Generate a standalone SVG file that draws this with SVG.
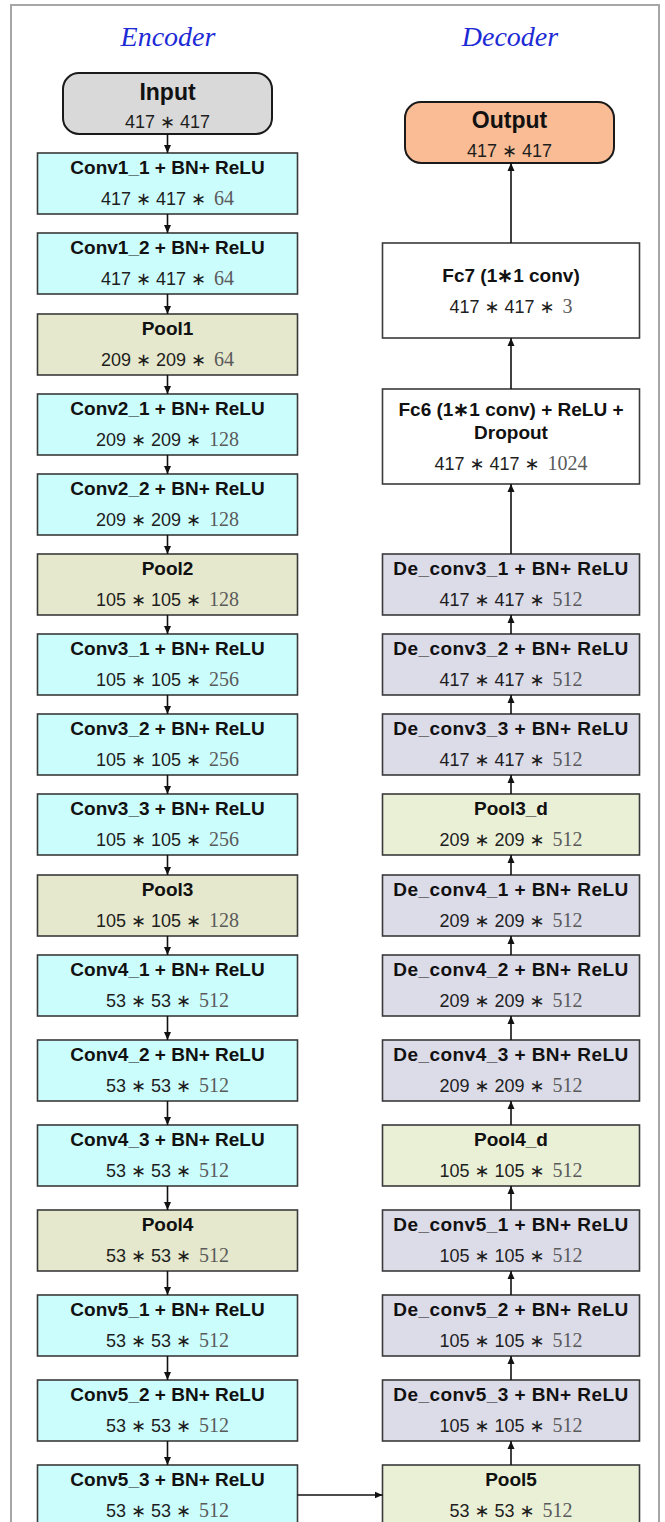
<svg xmlns="http://www.w3.org/2000/svg" width="665" height="1522" viewBox="0 0 665 1522">
  <style>
    .frame { fill: #ffffff; stroke: #a6a6a6; stroke-width: 2; }
    .head { font-family: "Liberation Serif", "Times New Roman", serif; font-style: italic; font-size: 28px; fill: #1d2bd6; text-anchor: middle; }
    .box { stroke: #3a3a3a; stroke-width: 1.6; }
    .conv { fill: #ccfdfd; }
    .pool { fill: #e5e8cc; }
    .poold { fill: #eaf0d6; }
    .deconv { fill: #dcdbe8; }
    .fc { fill: #ffffff; }
    .io { stroke: #1a1a1a; stroke-width: 2; }
    .title { font-family: "Liberation Sans", Arial, sans-serif; font-weight: bold; font-size: 19px; fill: #111111; text-anchor: middle; }
    .wide { letter-spacing: 0.45px; }
    .big { font-family: "Liberation Sans", Arial, sans-serif; font-weight: bold; font-size: 23px; fill: #111111; text-anchor: middle; }
    .dim { font-family: "Liberation Sans", "DejaVu Sans", Arial, sans-serif; font-size: 18px; fill: #1e1e1e; text-anchor: middle; }
    .num { font-family: "Liberation Serif", "DejaVu Serif", serif; font-size: 20px; fill: #5a5a5a; }
    .wire { stroke: #111111; stroke-width: 1.6; fill: none; marker-end: url(#ah); }
  </style>
  <defs>
    <marker id="ah" markerWidth="8" markerHeight="8" refX="8" refY="4" orient="auto" markerUnits="userSpaceOnUse">
      <path d="M0,0.5 L8,4 L0,7.5 z" fill="#111111"/>
    </marker>
  </defs>

  <!-- outer frame -->
  <rect class="frame" x="11" y="5" width="648" height="1530"/>

  <!-- column headings -->
  <text class="head" x="168" y="46">Encoder</text>
  <text class="head" x="510" y="46">Decoder</text>

  <!-- encoder column -->
  <g id="input">
    <rect class="io" x="63" y="73" width="209" height="61" rx="16" fill="#d9d9d9"/>
    <text class="big" x="167.5" y="100">Input</text>
    <text class="dim" x="167.5" y="128">417 ∗ 417</text>
  </g>
  <g id="conv1_1">
    <rect class="box conv" x="37.5" y="153" width="260" height="61"/>
    <text class="title" x="167.5" y="174">Conv1_1 + BN+ ReLU</text>
    <text class="dim" x="167.5" y="204.5">417 ∗ 417 ∗ <tspan class="num" dx="3">64</tspan></text>
  </g>
  <g id="conv1_2">
    <rect class="box conv" x="37.5" y="233" width="260" height="61"/>
    <text class="title" x="167.5" y="254">Conv1_2 + BN+ ReLU</text>
    <text class="dim" x="167.5" y="284.5">417 ∗ 417 ∗ <tspan class="num" dx="3">64</tspan></text>
  </g>
  <g id="pool1">
    <rect class="box pool" x="37.5" y="314" width="260" height="61"/>
    <text class="title" x="167.5" y="335">Pool1</text>
    <text class="dim" x="167.5" y="365.5">209 ∗ 209 ∗ <tspan class="num" dx="3">64</tspan></text>
  </g>
  <g id="conv2_1">
    <rect class="box conv" x="37.5" y="394" width="260" height="61"/>
    <text class="title" x="167.5" y="415">Conv2_1 + BN+ ReLU</text>
    <text class="dim" x="167.5" y="445.5">209 ∗ 209 ∗ <tspan class="num" dx="3">128</tspan></text>
  </g>
  <g id="conv2_2">
    <rect class="box conv" x="37.5" y="474" width="260" height="61"/>
    <text class="title" x="167.5" y="495">Conv2_2 + BN+ ReLU</text>
    <text class="dim" x="167.5" y="525.5">209 ∗ 209 ∗ <tspan class="num" dx="3">128</tspan></text>
  </g>
  <g id="pool2">
    <rect class="box pool" x="37.5" y="554" width="260" height="61"/>
    <text class="title" x="167.5" y="575">Pool2</text>
    <text class="dim" x="167.5" y="605.5">105 ∗ 105 ∗ <tspan class="num" dx="3">128</tspan></text>
  </g>
  <g id="conv3_1">
    <rect class="box conv" x="37.5" y="634" width="260" height="61"/>
    <text class="title" x="167.5" y="655">Conv3_1 + BN+ ReLU</text>
    <text class="dim" x="167.5" y="685.5">105 ∗ 105 ∗ <tspan class="num" dx="3">256</tspan></text>
  </g>
  <g id="conv3_2">
    <rect class="box conv" x="37.5" y="714" width="260" height="61"/>
    <text class="title" x="167.5" y="735">Conv3_2 + BN+ ReLU</text>
    <text class="dim" x="167.5" y="765.5">105 ∗ 105 ∗ <tspan class="num" dx="3">256</tspan></text>
  </g>
  <g id="conv3_3">
    <rect class="box conv" x="37.5" y="794" width="260" height="61"/>
    <text class="title" x="167.5" y="815">Conv3_3 + BN+ ReLU</text>
    <text class="dim" x="167.5" y="845.5">105 ∗ 105 ∗ <tspan class="num" dx="3">256</tspan></text>
  </g>
  <g id="pool3">
    <rect class="box pool" x="37.5" y="875" width="260" height="61"/>
    <text class="title" x="167.5" y="896">Pool3</text>
    <text class="dim" x="167.5" y="926.5">105 ∗ 105 ∗ <tspan class="num" dx="3">128</tspan></text>
  </g>
  <g id="conv4_1">
    <rect class="box conv" x="37.5" y="955" width="260" height="61"/>
    <text class="title" x="167.5" y="976">Conv4_1 + BN+ ReLU</text>
    <text class="dim" x="167.5" y="1006.5">53 ∗ 53 ∗ <tspan class="num" dx="3">512</tspan></text>
  </g>
  <g id="conv4_2">
    <rect class="box conv" x="37.5" y="1040" width="260" height="61"/>
    <text class="title" x="167.5" y="1061">Conv4_2 + BN+ ReLU</text>
    <text class="dim" x="167.5" y="1091.5">53 ∗ 53 ∗ <tspan class="num" dx="3">512</tspan></text>
  </g>
  <g id="conv4_3">
    <rect class="box conv" x="37.5" y="1125" width="260" height="61"/>
    <text class="title" x="167.5" y="1146">Conv4_3 + BN+ ReLU</text>
    <text class="dim" x="167.5" y="1176.5">53 ∗ 53 ∗ <tspan class="num" dx="3">512</tspan></text>
  </g>
  <g id="pool4">
    <rect class="box pool" x="37.5" y="1210" width="260" height="61"/>
    <text class="title" x="167.5" y="1231">Pool4</text>
    <text class="dim" x="167.5" y="1261.5">53 ∗ 53 ∗ <tspan class="num" dx="3">512</tspan></text>
  </g>
  <g id="conv5_1">
    <rect class="box conv" x="37.5" y="1295" width="260" height="61"/>
    <text class="title" x="167.5" y="1316">Conv5_1 + BN+ ReLU</text>
    <text class="dim" x="167.5" y="1346.5">53 ∗ 53 ∗ <tspan class="num" dx="3">512</tspan></text>
  </g>
  <g id="conv5_2">
    <rect class="box conv" x="37.5" y="1380" width="260" height="61"/>
    <text class="title" x="167.5" y="1401">Conv5_2 + BN+ ReLU</text>
    <text class="dim" x="167.5" y="1431.5">53 ∗ 53 ∗ <tspan class="num" dx="3">512</tspan></text>
  </g>
  <g id="conv5_3">
    <rect class="box conv" x="37.5" y="1465" width="260" height="61"/>
    <text class="title" x="167.5" y="1486">Conv5_3 + BN+ ReLU</text>
    <text class="dim" x="167.5" y="1516.5">53 ∗ 53 ∗ <tspan class="num" dx="3">512</tspan></text>
  </g>

  <!-- decoder column -->
  <g id="output">
    <rect class="io" x="405" y="102" width="209" height="61" rx="16" fill="#f9bc95"/>
    <text class="big" x="509.5" y="128">Output</text>
    <text class="dim" x="509.5" y="157">417 ∗ 417</text>
  </g>
  <g id="fc7">
    <rect class="box fc" x="382.5" y="243" width="257" height="95"/>
    <text class="title" x="511" y="282">Fc7 (1∗1 conv)</text>
    <text class="dim" x="511" y="312.5">417 ∗ 417 ∗ <tspan class="num" dx="3">3</tspan></text>
  </g>
  <g id="fc6">
    <rect class="box fc" x="382.5" y="389" width="257" height="95"/>
    <text class="title" x="511" y="416">Fc6 (1∗1 conv) + ReLU +</text>
    <text class="title" x="511" y="439">Dropout</text>
    <text class="dim" x="511" y="470">417 ∗ 417 ∗ <tspan class="num" dx="3">1024</tspan></text>
  </g>
  <g id="de_conv3_1">
    <rect class="box deconv" x="382.5" y="554" width="257" height="61"/>
    <text class="title wide" x="511" y="575">De_conv3_1 + BN+ ReLU</text>
    <text class="dim" x="511" y="605.5">417 ∗ 417 ∗ <tspan class="num" dx="3">512</tspan></text>
  </g>
  <g id="de_conv3_2">
    <rect class="box deconv" x="382.5" y="634" width="257" height="61"/>
    <text class="title wide" x="511" y="655">De_conv3_2 + BN+ ReLU</text>
    <text class="dim" x="511" y="685.5">417 ∗ 417 ∗ <tspan class="num" dx="3">512</tspan></text>
  </g>
  <g id="de_conv3_3">
    <rect class="box deconv" x="382.5" y="714" width="257" height="61"/>
    <text class="title wide" x="511" y="735">De_conv3_3 + BN+ ReLU</text>
    <text class="dim" x="511" y="765.5">417 ∗ 417 ∗ <tspan class="num" dx="3">512</tspan></text>
  </g>
  <g id="pool3_d">
    <rect class="box poold" x="382.5" y="794" width="257" height="61"/>
    <text class="title" x="511" y="815">Pool3_d</text>
    <text class="dim" x="511" y="845.5">209 ∗ 209 ∗ <tspan class="num" dx="3">512</tspan></text>
  </g>
  <g id="de_conv4_1">
    <rect class="box deconv" x="382.5" y="875" width="257" height="61"/>
    <text class="title wide" x="511" y="896">De_conv4_1 + BN+ ReLU</text>
    <text class="dim" x="511" y="926.5">209 ∗ 209 ∗ <tspan class="num" dx="3">512</tspan></text>
  </g>
  <g id="de_conv4_2">
    <rect class="box deconv" x="382.5" y="955" width="257" height="61"/>
    <text class="title wide" x="511" y="976">De_conv4_2 + BN+ ReLU</text>
    <text class="dim" x="511" y="1006.5">209 ∗ 209 ∗ <tspan class="num" dx="3">512</tspan></text>
  </g>
  <g id="de_conv4_3">
    <rect class="box deconv" x="382.5" y="1040" width="257" height="61"/>
    <text class="title wide" x="511" y="1061">De_conv4_3 + BN+ ReLU</text>
    <text class="dim" x="511" y="1091.5">209 ∗ 209 ∗ <tspan class="num" dx="3">512</tspan></text>
  </g>
  <g id="pool4_d">
    <rect class="box poold" x="382.5" y="1125" width="257" height="61"/>
    <text class="title" x="511" y="1146">Pool4_d</text>
    <text class="dim" x="511" y="1176.5">105 ∗ 105 ∗ <tspan class="num" dx="3">512</tspan></text>
  </g>
  <g id="de_conv5_1">
    <rect class="box deconv" x="382.5" y="1210" width="257" height="61"/>
    <text class="title wide" x="511" y="1231">De_conv5_1 + BN+ ReLU</text>
    <text class="dim" x="511" y="1261.5">105 ∗ 105 ∗ <tspan class="num" dx="3">512</tspan></text>
  </g>
  <g id="de_conv5_2">
    <rect class="box deconv" x="382.5" y="1295" width="257" height="61"/>
    <text class="title wide" x="511" y="1316">De_conv5_2 + BN+ ReLU</text>
    <text class="dim" x="511" y="1346.5">105 ∗ 105 ∗ <tspan class="num" dx="3">512</tspan></text>
  </g>
  <g id="de_conv5_3">
    <rect class="box deconv" x="382.5" y="1380" width="257" height="61"/>
    <text class="title wide" x="511" y="1401">De_conv5_3 + BN+ ReLU</text>
    <text class="dim" x="511" y="1431.5">105 ∗ 105 ∗ <tspan class="num" dx="3">512</tspan></text>
  </g>
  <g id="pool5">
    <rect class="box poold" x="382.5" y="1465" width="257" height="61"/>
    <text class="title" x="511" y="1486">Pool5</text>
    <text class="dim" x="511" y="1516.5">53 ∗ 53 ∗ <tspan class="num" dx="3">512</tspan></text>
  </g>

  <!-- connectors -->
  <g id="connectors">
    <!-- encoder, downward -->
    <line class="wire" x1="167.5" y1="134" x2="167.5" y2="153"/>
    <line class="wire" x1="167.5" y1="214" x2="167.5" y2="233"/>
    <line class="wire" x1="167.5" y1="294" x2="167.5" y2="314"/>
    <line class="wire" x1="167.5" y1="375" x2="167.5" y2="394"/>
    <line class="wire" x1="167.5" y1="455" x2="167.5" y2="474"/>
    <line class="wire" x1="167.5" y1="535" x2="167.5" y2="554"/>
    <line class="wire" x1="167.5" y1="615" x2="167.5" y2="634"/>
    <line class="wire" x1="167.5" y1="695" x2="167.5" y2="714"/>
    <line class="wire" x1="167.5" y1="775" x2="167.5" y2="794"/>
    <line class="wire" x1="167.5" y1="855" x2="167.5" y2="875"/>
    <line class="wire" x1="167.5" y1="936" x2="167.5" y2="955"/>
    <line class="wire" x1="167.5" y1="1016" x2="167.5" y2="1040"/>
    <line class="wire" x1="167.5" y1="1101" x2="167.5" y2="1125"/>
    <line class="wire" x1="167.5" y1="1186" x2="167.5" y2="1210"/>
    <line class="wire" x1="167.5" y1="1271" x2="167.5" y2="1295"/>
    <line class="wire" x1="167.5" y1="1356" x2="167.5" y2="1380"/>
    <line class="wire" x1="167.5" y1="1441" x2="167.5" y2="1465"/>
    <!-- bridge -->
    <line class="wire" x1="297.5" y1="1495" x2="382.5" y2="1495"/>
    <!-- decoder, upward -->
    <line class="wire" x1="511" y1="1465" x2="511" y2="1441"/>
    <line class="wire" x1="511" y1="1380" x2="511" y2="1356"/>
    <line class="wire" x1="511" y1="1295" x2="511" y2="1271"/>
    <line class="wire" x1="511" y1="1210" x2="511" y2="1186"/>
    <line class="wire" x1="511" y1="1125" x2="511" y2="1101"/>
    <line class="wire" x1="511" y1="1040" x2="511" y2="1016"/>
    <line class="wire" x1="511" y1="955" x2="511" y2="936"/>
    <line class="wire" x1="511" y1="875" x2="511" y2="855"/>
    <line class="wire" x1="511" y1="794" x2="511" y2="775"/>
    <line class="wire" x1="511" y1="714" x2="511" y2="695"/>
    <line class="wire" x1="511" y1="634" x2="511" y2="615"/>
    <line class="wire" x1="511" y1="554" x2="511" y2="484"/>
    <line class="wire" x1="511" y1="389" x2="511" y2="338"/>
    <line class="wire" x1="511" y1="243" x2="511" y2="163"/>
  </g>
</svg>
